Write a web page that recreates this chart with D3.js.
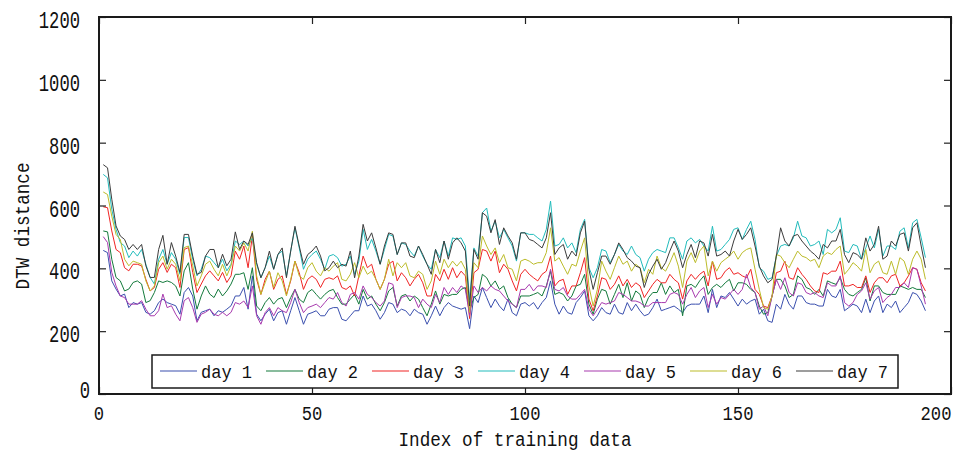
<!DOCTYPE html>
<html lang="en">
    <head>
        <meta charset="utf-8">
        <title>DTW distance</title>
        <script src="https://d3js.org/d3.v7.min.js"></script>
        <style>
            body { margin: 0; background: #fff; }
            svg#main_g { display: block; }
        </style>
    </head>
    <body>
        <svg id="main_g" width="960" height="453"></svg>
        <script type="text/javascript">
            // ---- data ----
            let series_names = ["day 1", "day 2", "day 3", "day 4", "day 5", "day 6", "day 7"];
            let series_colors = ["#3a4fae", "#147a3c", "#f02424", "#22bcbc", "#a83aae", "#bcbc2a", "#3c3c3c"];
            let x_ticks = [0, 50, 100, 150, 200];
            let y_ticks = [0, 200, 400, 600, 800, 1000, 1200];

            let day1 = [457,450,360,334,312,318,275,291,286,291,260,254,265,291,302,291,286,281,254,323,339,312,233,260,265,270,249,265,260,270,281,312,312,
                339,270,376,254,233,254,270,233,259,265,222,265,307,265,222,254,259,265,249,249,270,275,275,238,233,249,265,265,312,280,286,265,238,259,
                291,286,259,270,265,249,270,259,254,222,249,280,249,275,291,280,275,270,275,208,312,291,339,307,275,302,280,265,302,259,249,286,
                291,280,291,270,291,307,360,286,254,280,259,254,291,307,328,249,233,249,275,259,254,286,259,254,291,265,286,265,249,254,275,302,265,270,275,280,270,
                259,280,286,286,286,312,259,333,275,312,307,323,302,280,302,286,296,302,254,270,233,228,286,270,317,286,270,312,312,291,286,
                286,280,280,333,312,307,333,265,275,286,280,259,302,259,296,312,259,286,275,296,259,275,291,323,317,296,265];
            let day2 = [519,516,429,371,360,328,334,355,360,350,291,297,323,360,355,360,355,344,312,392,418,334,270,312,344,318,307,334,312,328,350,381,381,
                386,333,402,280,265,291,307,286,302,307,275,307,333,302,291,323,333,317,302,317,328,333,307,286,286,302,317,286,333,302,312,286,265,291,
                328,339,280,312,317,296,312,302,275,249,286,328,286,317,312,317,317,333,339,265,307,317,381,370,344,360,333,344,307,286,275,312,
                312,312,317,323,312,344,391,317,323,317,296,312,344,349,381,286,254,302,333,328,286,317,349,307,354,296,328,317,275,307,323,323,354,317,344,323,333,
                249,344,349,339,360,376,317,339,349,339,354,365,328,354,354,349,333,323,280,254,259,312,365,365,344,307,317,376,365,339,333,
                317,333,312,360,354,349,370,333,317,312,323,333,370,296,344,344,323,317,317,317,344,339,333,339,333,333,307];
            let day3 = [596,593,519,460,450,402,392,413,413,408,365,328,339,397,418,387,413,402,339,460,466,387,323,350,376,392,376,360,387,355,376,455,429,
                471,402,503,365,317,365,391,333,365,376,317,360,423,386,333,365,376,365,339,365,370,365,376,339,333,344,312,376,439,402,413,365,333,365,
                413,423,360,386,370,344,365,381,354,312,312,381,360,397,365,402,370,391,376,240,386,397,460,455,423,455,386,413,397,360,328,381,
                397,381,370,360,381,391,439,344,360,365,317,344,344,386,434,302,265,312,370,365,333,349,376,344,365,339,354,344,307,328,349,365,354,354,381,365,354,
                302,360,381,365,381,391,344,423,365,370,391,402,381,386,376,370,397,333,317,280,275,312,386,391,423,370,365,402,381,365,344,
                328,323,386,381,391,391,423,344,344,349,339,339,376,323,354,370,370,354,376,381,344,354,376,402,397,354,328];
            let day4 = [699,688,588,524,482,471,434,455,439,460,413,371,350,429,460,413,450,429,381,498,498,429,376,397,439,434,418,402,429,392,413,487,476,
                487,471,497,413,370,402,439,397,444,455,376,455,529,465,397,429,444,455,429,397,439,444,434,407,413,439,381,423,524,460,492,455,413,460,
                508,503,444,481,476,455,439,471,439,413,397,460,434,487,439,497,492,497,471,300,465,439,577,592,518,550,497,524,497,471,423,513,
                513,508,508,497,487,524,614,471,476,497,465,481,450,524,556,402,370,402,460,455,418,444,476,455,444,471,444,434,391,429,450,460,455,450,497,497,465,
                429,487,497,481,492,471,455,534,455,460,476,492,524,529,492,524,550,492,402,391,365,370,439,471,476,471,497,550,503,497,471,
                476,487,444,524,513,524,561,455,450,476,471,429,465,503,465,524,439,471,471,460,518,529,465,545,556,497,434];
            let day5 = [501,482,387,344,312,307,286,286,286,297,270,249,249,265,318,275,281,254,233,297,307,275,228,254,260,270,254,249,260,249,260,291,286,
                296,275,344,249,222,259,275,249,275,265,259,291,333,291,259,275,280,286,275,291,307,302,323,291,280,317,323,302,344,317,307,291,280,296,
                354,349,275,307,312,312,307,275,302,286,275,317,291,339,317,339,323,344,333,250,344,323,339,328,344,333,328,312,296,286,275,333,
                333,349,328,344,344,339,397,333,328,339,312,302,302,317,333,270,249,270,291,286,291,296,323,317,307,296,296,291,280,280,291,291,291,291,317,323,317,
                286,317,339,307,328,339,275,317,286,307,302,317,333,317,333,381,339,323,270,280,249,312,365,333,370,323,312,354,349,323,317,
                323,312,307,354,344,344,376,291,280,291,317,328,354,302,328,339,291,307,317,339,339,354,339,402,397,344,286];
            let day6 = [643,635,566,508,492,429,408,423,418,413,360,328,344,418,439,397,429,413,360,466,471,408,344,376,413,423,397,376,413,376,408,471,455,
                481,455,518,376,317,354,391,339,386,360,312,365,423,376,365,402,418,391,376,402,391,407,418,365,360,381,418,370,407,381,391,365,333,365,
                429,376,418,402,418,376,370,391,381,333,360,423,381,429,402,423,407,423,397,260,418,402,503,471,444,465,418,444,402,397,360,423,
                429,423,413,418,418,450,529,423,434,407,381,413,407,455,497,344,280,333,423,391,365,402,439,413,423,391,413,402,354,397,381,439,402,391,418,450,407,
                339,423,450,418,455,471,376,423,391,418,429,439,455,429,450,460,465,397,333,275,270,312,444,439,418,402,429,455,439,434,423,
                429,402,439,450,444,460,471,381,397,418,407,391,460,386,413,423,386,381,423,381,434,423,381,429,455,429,365];
            let day7 = [730,720,620,535,503,492,460,476,460,476,408,371,371,460,505,413,482,439,387,508,508,439,381,387,439,460,460,402,445,408,429,516,460,
                487,476,513,418,370,402,455,397,444,465,370,455,534,471,413,444,455,471,439,392,402,423,402,413,407,455,370,439,540,487,513,465,413,471,
                513,508,444,481,481,439,434,471,444,413,381,460,418,487,429,481,497,481,455,280,460,429,577,566,513,555,476,529,503,481,429,513,
                513,492,487,476,465,497,577,444,465,476,429,455,439,513,550,397,333,386,439,439,413,444,481,460,434,423,407,402,339,381,407,429,397,418,455,487,455,
                402,444,476,434,487,481,439,508,439,444,455,439,487,524,492,508,529,471,407,376,354,365,439,529,487,471,503,508,487,471,455,
                444,429,476,465,487,487,524,444,418,450,444,429,497,455,476,534,429,439,487,471,508,513,455,529,545,471,402];

            let all_days = [day1, day2, day3, day4, day5, day6, day7];

            // ---- layout ----
            const plot_left = 99, plot_right = 951, plot_top = 17, plot_bottom = 394;
            const mono = "'Liberation Mono', 'DejaVu Sans Mono', monospace";
            let svg = d3.select('#main_g');

            let xScale = d3.scaleLinear().domain([0, 200]).range([plot_left, plot_right]);
            let yScale = d3.scaleLinear().domain([0, 1200]).range([plot_bottom, plot_top]);

            // series lines (index starts at 1)
            let line = d3.line()
                .x(function(d, i){ return xScale(i + 1); })
                .y(function(d){ return yScale(d); });

            let plot = svg.append("g").attr("id", "lines");
            plot.selectAll("path.series").data(all_days).enter()
                .append("path")
                .attr("class", "series")
                .attr("d", line)
                .attr("fill", "none")
                .attr("stroke", function(d, i){ return series_colors[i]; })
                .attr("stroke-width", 1)
                .attr("stroke-linejoin", "round");

            // inward ticks on all four sides
            let tick_len = 7;
            svg.append("g").attr("transform", "translate(0," + plot_bottom + ")")
                .call(d3.axisBottom(xScale).tickValues(x_ticks).tickSize(-tick_len).tickFormat(""));
            svg.append("g").attr("transform", "translate(0," + plot_top + ")")
                .call(d3.axisTop(xScale).tickValues(x_ticks).tickSize(-tick_len).tickFormat(""));
            svg.append("g").attr("transform", "translate(" + plot_left + ",0)")
                .call(d3.axisLeft(yScale).tickValues(y_ticks).tickSize(-tick_len).tickFormat(""));
            svg.append("g").attr("transform", "translate(" + plot_right + ",0)")
                .call(d3.axisRight(yScale).tickValues(y_ticks).tickSize(-tick_len).tickFormat(""));
            svg.selectAll(".domain").remove();
            svg.selectAll(".tick line").attr("stroke", "#222").attr("stroke-width", 1.2);

            // frame
            svg.append("rect")
                .attr("x", plot_left).attr("y", plot_top)
                .attr("width", plot_right - plot_left).attr("height", plot_bottom - plot_top)
                .attr("fill", "none").attr("stroke", "#1a1a1a").attr("stroke-width", 2);

            // tick labels (last x label pulled in so it stays on the page)
            svg.append("g").selectAll("text").data(x_ticks).enter()
                .append("text")
                .attr("x", function(d){ return d == 200 ? xScale(d) - 15 : xScale(d); })
                .attr("y", 420)
                .attr("text-anchor", "middle")
                .attr("font-family", mono).attr("font-size", 21).attr("fill", "#111")
                .attr("textLength", function(d){ return String(d).length * 10.3; })
                .attr("lengthAdjust", "spacingAndGlyphs")
                .text(function(d){ return d; });

            svg.append("g").selectAll("text").data(y_ticks).enter()
                .append("text")
                .attr("x", function(d){ return d == 0 ? 90 : 80; })
                .attr("y", function(d){ return d == 0 ? 398 : yScale(d) + 11; })
                .attr("text-anchor", "end")
                .attr("font-family", mono).attr("font-size", 23).attr("fill", "#111")
                .attr("textLength", function(d){ return String(d).length * 10.3; })
                .attr("lengthAdjust", "spacingAndGlyphs")
                .text(function(d){ return d; });

            // axis titles
            svg.append("text")
                .attr("x", 515).attr("y", 446)
                .attr("text-anchor", "middle")
                .attr("font-family", mono).attr("font-size", 20).attr("fill", "#111")
                .attr("textLength", 233).attr("lengthAdjust", "spacingAndGlyphs")
                .text("Index of training data");

            svg.append("text")
                .attr("transform", "translate(29,226) rotate(-90)")
                .attr("text-anchor", "middle")
                .attr("font-family", mono).attr("font-size", 21).attr("fill", "#111")
                .attr("textLength", 127).attr("lengthAdjust", "spacingAndGlyphs")
                .text("DTW distance");

            // legend
            let legend = svg.append("g").attr("id", "legend");
            legend.append("rect")
                .attr("x", 152).attr("y", 355).attr("width", 746).attr("height", 33)
                .attr("fill", "#fff").attr("stroke", "#1a1a1a").attr("stroke-width", 1.5);

            let items = legend.selectAll("g.item").data(series_names).enter()
                .append("g").attr("class", "item")
                .attr("transform", function(d, i){ return "translate(" + (160 + 106 * i) + ",0)"; });
            items.append("path")
                .attr("d", "M 0 371 H 37")
                .attr("stroke", function(d, i){ return series_colors[i]; })
                .attr("stroke-width", 1.2);
            items.append("text")
                .attr("x", 41).attr("y", 378)
                .attr("font-family", mono).attr("font-size", 18).attr("fill", "#111")
                .attr("textLength", 51).attr("lengthAdjust", "spacingAndGlyphs")
                .text(function(d){ return d; });
        </script>
    </body>
</html>
